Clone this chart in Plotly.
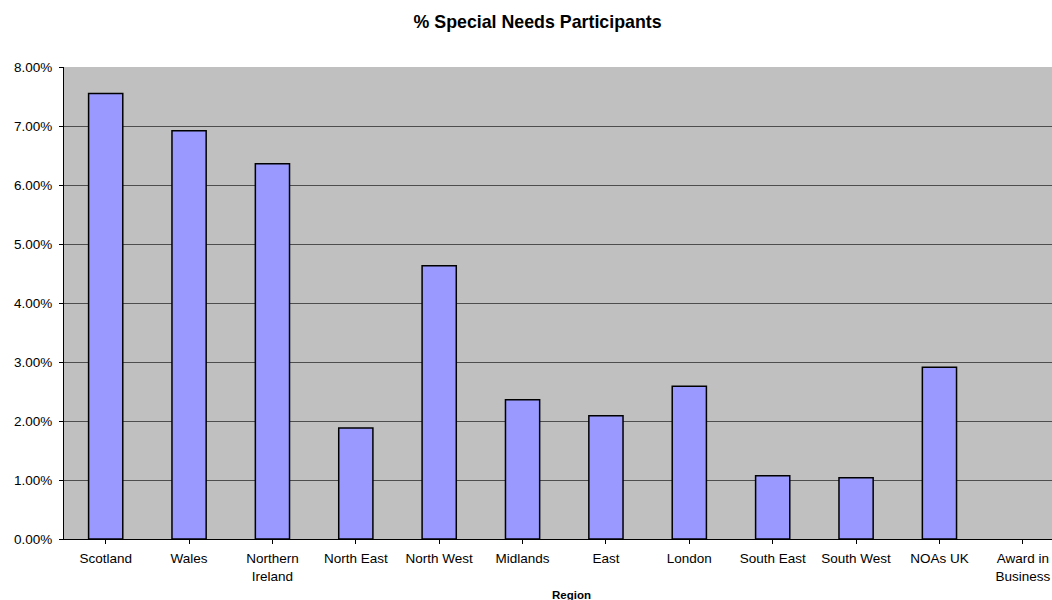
import plotly.graph_objects as go

categories = ["Scotland", "Wales", "Northern<br>Ireland", "North East", "North West",
              "Midlands", "East", "London", "South East", "South West", "NOAs UK",
              "Award in<br>Business"]
values = [0.0755, 0.0692, 0.0636, 0.0188, 0.0463, 0.0236, 0.0209, 0.0259,
          0.0107, 0.0104, 0.0291, 0.0]
y_ticks = [0.0, 0.01, 0.02, 0.03, 0.04, 0.05, 0.06, 0.07, 0.08]

FONT = "Liberation Sans, Arial, sans-serif"
TICK = 13.5

fig = go.Figure()
fig.add_trace(go.Bar(
    x=list(range(len(categories))), y=values,
    marker=dict(color="#9999FF",
                line=dict(color="black", width=[1.5 if v > 0 else 0 for v in values])),
    width=0.41,
    hoverinfo="skip",
))

fig.update_layout(
    width=1052, height=600,
    margin=dict(l=64, r=0, t=67, b=61),
    paper_bgcolor="white", plot_bgcolor="#C0C0C0",
    showlegend=False,
    font=dict(family=FONT, size=TICK, color="black"),
    title=dict(text="<b>% Special Needs Participants</b>",
               x=0.511, xanchor="center", y=0.963, yanchor="middle",
               font=dict(family=FONT, size=17.8, color="black")),
)
fig.update_xaxes(
    tickmode="array", tickvals=list(range(len(categories))), ticktext=categories,
    range=[-0.5, 11.35], showgrid=False,
    showline=True, linecolor="black", linewidth=1,
    ticks="outside", tickson="boundaries", ticklen=4, tickcolor="black",
    tickfont=dict(family=FONT, size=TICK, color="black"),
    ticklabelstandoff=3,
)
fig.update_yaxes(
    range=[0, 0.08], tickvals=y_ticks, tickformat=".2%",
    showgrid=True, gridcolor="#4d4d4d", gridwidth=1,
    showline=True, linecolor="black", linewidth=1,
    ticks="outside", ticklen=4, tickcolor="black",
    tickfont=dict(family=FONT, size=TICK, color="black"),
    ticklabelstandoff=4,
    zeroline=False,
)
fig.add_annotation(text="<b>Region</b>", x=0.514, y=-0.1186, xref="paper", yref="paper",
                   showarrow=False, yanchor="middle",
                   font=dict(family=FONT, size=11.5, color="black"))

fig.write_html("out.html", config={"displayModeBar": False},
               post_script="document.body.style.margin='0';document.body.style.overflow='hidden';")
